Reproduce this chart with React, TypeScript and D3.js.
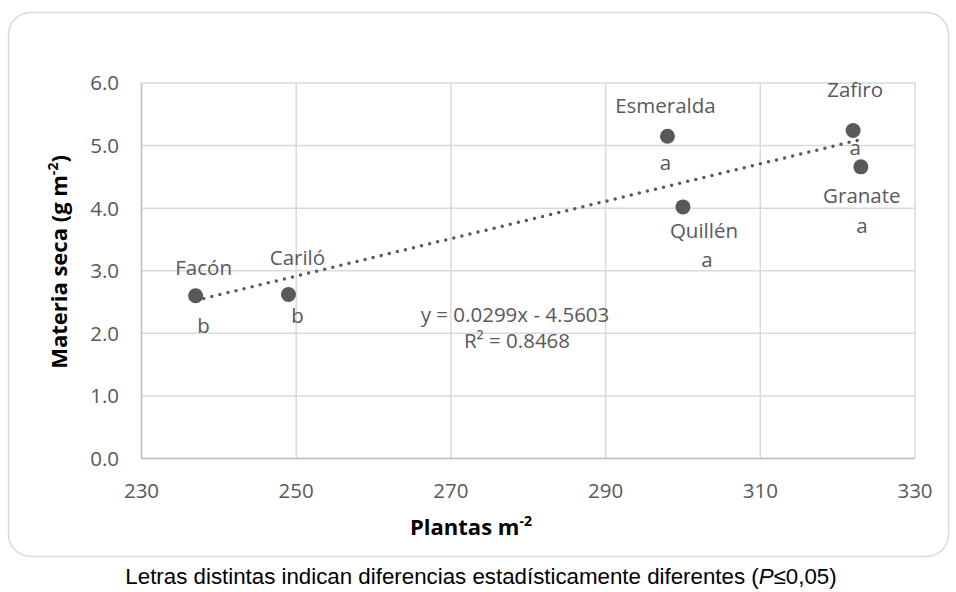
import React from "react";
import * as d3 from "d3";

const cultivars = ["Facón", "Cariló", "Esmeralda", "Quillén", "Zafiro", "Granate"];
const plantas = [237, 249, 298, 300, 322, 323];
const materiaSeca = [2.6, 2.62, 5.15, 4.02, 5.24, 4.66];
const letters = ["b", "b", "a", "a", "a", "a"];
const xTicks = [230, 250, 270, 290, 310, 330];
const yTicks = [0, 1, 2, 3, 4, 5, 6];
const trendSlope = 0.0299;
const trendIntercept = -4.5603;
const trendR2 = 0.8468;

// label layout offsets (px) relative to each point: [nameDx, nameDy, letterDx, letterDy]
const labelOffsets = [
  [8, -21, 8, 37],
  [9, -30, 9, 28],
  [-2, -23, -2, 34],
  [21, 31, 24, 60],
  [2, -34, 2, 24],
  [1, 36, 1, 66],
];

const W = 956;
const H = 592;
const left = 141.5;
const right = 915;
const top = 83;
const bottom = 458.5;
const gray = "#595959";
const grid = "#d9d9d9";
const font = "'Open Sans', sans-serif";

export default function App() {
  const x = d3.scaleLinear().domain([230, 330]).range([left, right]);
  const y = d3.scaleLinear().domain([0, 6]).range([bottom, top]);
  const xMin = d3.min(plantas)!;
  const xMax = d3.max(plantas)!;
  const line = d3
    .line<number>()
    .x((d) => x(d))
    .y((d) => y(trendSlope * d + trendIntercept));

  return (
    <div style={{ position: "fixed", left: 0, top: 0, width: W, height: H, background: "#fff" }}>
      <svg width={W} height={H} style={{ display: "block" }}>
        <rect x={0} y={0} width={W} height={H} fill="#fff" />
        <rect x={8.5} y={12.5} width={940} height={544} rx={22} ry={22} fill="#fff" stroke={grid} strokeWidth={1.5} />
        {/* gridlines */}
        {yTicks.map((t) => (
          <line key={"gy" + t} x1={left} x2={right} y1={y(t)} y2={y(t)} stroke={grid} strokeWidth={1.5} />
        ))}
        {xTicks.map((t) => (
          <line key={"gx" + t} x1={x(t)} x2={x(t)} y1={top} y2={bottom} stroke={grid} strokeWidth={1.5} />
        ))}
        {/* axes */}
        <line x1={left} x2={left} y1={top} y2={bottom} stroke="#bfbfbf" strokeWidth={1.5} />
        <line x1={left} x2={right} y1={bottom} y2={bottom} stroke="#bfbfbf" strokeWidth={1.5} />
        {/* tick labels */}
        {yTicks.map((t) => (
          <text key={"ty" + t} x={119} y={y(t)} dy="0.36em" textAnchor="end" fontFamily={font} fontSize={20.5} fill={gray}>
            {d3.format(".1f")(t)}
          </text>
        ))}
        {xTicks.map((t) => (
          <text key={"tx" + t} x={x(t)} y={498} textAnchor="middle" fontFamily={font} fontSize={20.5} fill={gray}>
            {t}
          </text>
        ))}
        {/* trendline */}
        <path
          d={line([xMin, xMax]) || ""}
          fill="none"
          stroke={gray}
          strokeWidth={3.5}
          strokeLinecap="round"
          strokeDasharray="0 8.3"
        />
        {/* points */}
        {plantas.map((p, i) => (
          <circle key={"p" + i} cx={x(p)} cy={y(materiaSeca[i])} r={7.5} fill={gray} />
        ))}
        {/* labels */}
        {plantas.map((p, i) => {
          const [ndx, ndy, ldx, ldy] = labelOffsets[i];
          const cx = x(p);
          const cy = y(materiaSeca[i]);
          return (
            <g key={"l" + i} fontFamily={font} fontSize={20.5} fill={gray} textAnchor="middle">
              <text x={cx + ndx} y={cy + ndy}>{cultivars[i]}</text>
              <text x={cx + ldx} y={cy + ldy}>{letters[i]}</text>
            </g>
          );
        })}
        {/* equation */}
        <g fontFamily={font} fontSize={20.5} fill={gray} textAnchor="middle">
          <text x={515} y={322}>
            {"y = " + trendSlope.toFixed(4) + "x - " + Math.abs(trendIntercept).toFixed(4)}
          </text>
          <text x={517} y={348}>{"R² = " + trendR2.toFixed(4)}</text>
        </g>
        {/* axis titles */}
        <text x={471} y={535} textAnchor="middle" fontFamily={font} fontSize={22} fontWeight="bold" fill="#000">
          Plantas m
          <tspan fontSize={14} dy={-9}>-2</tspan>
        </text>
        <text
          transform={`translate(67, ${262}) rotate(-90)`}
          textAnchor="middle"
          fontFamily={font}
          fontSize={22}
          fontWeight="bold"
          fill="#000"
        >
          Materia seca (g m<tspan fontSize={14} dy={-9}>-2</tspan>
          <tspan dy={9}>)</tspan>
        </text>
        {/* caption */}
        <text x={481} y={584} textAnchor="middle" fontFamily="'Liberation Sans', Arial, sans-serif" fontSize={22.3} fill="#000">
          Letras distintas indican diferencias estadísticamente diferentes (<tspan fontStyle="italic">P</tspan>≤0,05)
        </text>
      </svg>
    </div>
  );
}
